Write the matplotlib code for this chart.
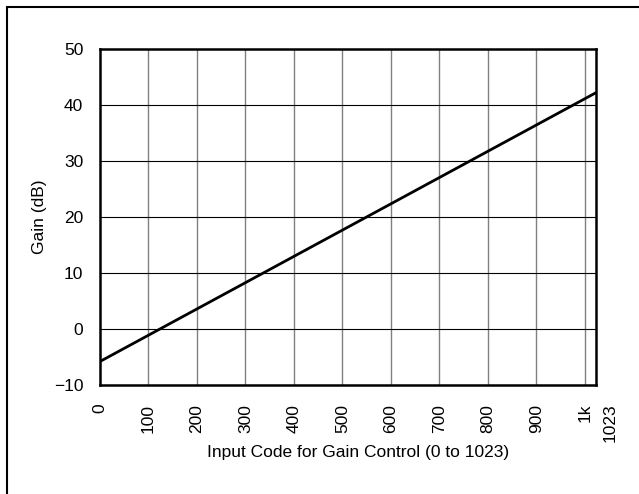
import matplotlib
matplotlib.use("Agg")
import matplotlib.pyplot as plt
from matplotlib.patches import Rectangle
import matplotlib.transforms as mtransforms

plt.rcParams["font.family"] = ["Liberation Sans", "DejaVu Sans"]

# gain vs input code (straight line)
codes = [0, 1023]
gain_db = [-5.8, 42.2]

x_ticks = [0, 100, 200, 300, 400, 500, 600, 700, 800, 900, 1000, 1023]
x_labels = ["0", "100", "200", "300", "400", "500", "600", "700", "800", "900", "1k", "1023"]
y_ticks = [-10, 0, 10, 20, 30, 40, 50]
y_labels = ["\u221210", "0", "10", "20", "30", "40", "50"]


def main():
    fig = plt.figure(figsize=(6.39, 4.94), dpi=100)

    # frame around the figure (right/bottom edges fall outside the image)
    fig.patches.append(Rectangle((7 / 639, -0.1), 1.1, 1 - 7 / 494 + 0.1,
                                 transform=fig.transFigure, fill=False,
                                 edgecolor="black", linewidth=1.5))

    ax = fig.add_axes([100 / 639, 1 - 385 / 494, 496 / 639, 336 / 494])

    for x in range(100, 1001, 100):
        ax.axvline(x, color="#808080", linewidth=1.0, zorder=1)
    for y in range(0, 50, 10):
        ax.axhline(y, color="black", linewidth=0.8, zorder=1)

    ax.plot(codes, gain_db, color="black", linewidth=2.0, zorder=3)

    ax.set_xlim(0, 1023)
    ax.set_ylim(-10, 50)
    ax.set_xticks(x_ticks)
    ax.set_xticklabels(x_labels, rotation=90, va="top", ha="center")
    ax.set_yticks(y_ticks)
    ax.set_yticklabels(y_labels)
    ax.tick_params(axis="x", length=0, pad=13.5, labelsize=12.5)
    ax.tick_params(axis="y", length=0, pad=12, labelsize=12.5)

    # nudge the "1023" label right so it doesn't run into "1k"
    offset = mtransforms.ScaledTranslation(14 / 100, 0, fig.dpi_scale_trans)
    lab = ax.get_xticklabels()[-1]
    lab.set_transform(lab.get_transform() + offset)

    for s in ax.spines.values():
        s.set_linewidth(1.8)

    ax.set_xlabel("Input Code for Gain Control (0 to 1023)", fontsize=12.5, va="center")
    ax.xaxis.set_label_coords(0.52, -0.202)
    ax.set_ylabel("Gain (dB)", fontsize=12.5, va="center")
    ax.yaxis.set_label_coords(-0.121, 0.5)

    fig.savefig("out.png", dpi=100)


if __name__ == "__main__":
    main()
